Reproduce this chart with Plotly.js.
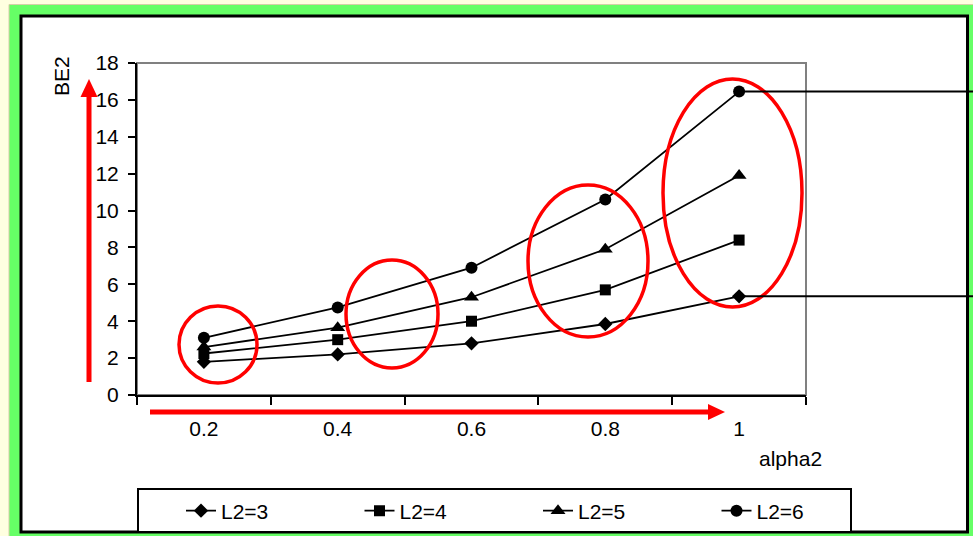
<!DOCTYPE html>
<html><head><meta charset="utf-8">
<script src="https://cdn.plot.ly/plotly-3.0.1.min.js"></script>
<style>html,body{margin:0;padding:0;background:#FFFFE0;overflow:hidden;} #chart{width:973px;height:536px;}</style>
</head><body><div id="chart"></div>
<script>
// ---- data ----
const categories = ['0.2', '0.4', '0.6', '0.8', '1'];
const seriesNames = ['L2=3', 'L2=4', 'L2=5', 'L2=6'];
const L2_3 = [1.8, 2.2, 2.8, 3.85, 5.35];
const L2_4 = [2.25, 3.0, 4.0, 5.7, 8.4];
const L2_5 = [2.6, 3.65, 5.3, 7.9, 11.9];
const L2_6 = [3.1, 4.75, 6.9, 10.6, 16.45];
const yTickVals = [0, 2, 4, 6, 8, 10, 12, 14, 16, 18];
const xTitle = 'alpha2';
const yTitle = 'BE2';

// ---- styles ----
const symbols = ['diamond', 'square', 'triangle-up', 'circle'];
const symSizes = [11, 11, 13, 12];
const FONT = 'Liberation Sans, Arial, sans-serif';

// plot area in pixels
const W = 973, H = 536, L = 137, R = 806, T = 63, B = 395;
const px = v => (v - L) / (R - L);
const py = v => (B - v) / (B - T);

const allSeries = [L2_3, L2_4, L2_5, L2_6];
const traces = allSeries.map((ys, i) => ({
  type: 'scatter', mode: 'lines+markers',
  x: categories, y: ys, name: seriesNames[i],
  line: {color: '#000000', width: 1.8},
  marker: {symbol: symbols[i], size: symSizes[i], color: '#000000'}
}));

const red = '#FF0000';
function ell(x0, y0, x1, y1) {
  return {type: 'circle', xref: 'paper', yref: 'paper', x0: px(x0), x1: px(x1), y0: py(y1), y1: py(y0),
          line: {color: red, width: 3.5}, fillcolor: 'rgba(0,0,0,0)', layer: 'above'};
}
function pline(x0, y0, x1, y1, color, width, layer) {
  return {type: 'line', xref: 'paper', yref: 'paper', x0: px(x0), y0: py(y0), x1: px(x1), y1: py(y1),
          line: {color: color, width: width}, layer: layer || 'above'};
}
function tri(pts) {
  const d = 'M' + pts.map(p => px(p[0]) + ',' + py(p[1])).join(' L') + ' Z';
  return {type: 'path', xref: 'paper', yref: 'paper', path: d, fillcolor: red, line: {width: 0}, layer: 'above'};
}

const lastIdx = categories.length - 1;
const xLast = (lastIdx + 0.5) / categories.length;

const shapes = [
  // backgrounds
  {type: 'rect', xref: 'paper', yref: 'paper', x0: px(9), x1: px(990), y0: py(4.5), y1: py(560),
   fillcolor: '#66FF66', line: {color: '#D6CFA8', width: 1}, layer: 'below'},
  {type: 'rect', xref: 'paper', yref: 'paper', x0: px(21), x1: px(967.5), y0: py(16), y1: py(532),
   fillcolor: '#FFFFFF', line: {color: '#000000', width: 3}, layer: 'below'},
  // plot frame (grey top/right)
  {type: 'rect', xref: 'paper', yref: 'paper', x0: 0, x1: 1, y0: 0, y1: 1,
   fillcolor: 'rgba(0,0,0,0)', line: {color: '#808080', width: 2}, layer: 'below'},
  // legend box
  {type: 'rect', xref: 'paper', yref: 'paper', x0: px(138), x1: px(851), y0: py(532), y1: py(489),
   fillcolor: '#FFFFFF', line: {color: '#000000', width: 2}, layer: 'below'},
  // ellipses
  ell(179, 306, 257, 383),
  ell(346, 260, 438, 368),
  ell(528, 185, 648, 337),
  ell(663, 79, 802, 307),
  // leader lines from the last points
  {type: 'line', xref: 'paper', yref: 'paper', x0: xLast, x1: px(973), y0: L2_6[lastIdx] / 18, y1: L2_6[lastIdx] / 18,
   line: {color: '#000000', width: 2}, layer: 'above'},
  {type: 'line', xref: 'paper', yref: 'paper', x0: xLast, x1: px(973), y0: L2_3[lastIdx] / 18, y1: L2_3[lastIdx] / 18,
   line: {color: '#000000', width: 2}, layer: 'above'},
  // red arrows
  pline(89, 382, 89, 95, red, 5),
  tri([[80.5, 97], [97.5, 97], [89, 79]]),
  pline(150, 412, 710, 412, red, 5),
  tri([[708, 404], [708, 420], [725, 412]])
];

const annotations = [
  {xref: 'paper', yref: 'paper', x: px(61), y: py(76), text: yTitle, showarrow: false, textangle: -90,
   font: {family: FONT, size: 21, color: '#000000'}, xanchor: 'center', yanchor: 'middle'},
  {xref: 'paper', yref: 'paper', x: px(790), y: py(458), text: xTitle, showarrow: false,
   font: {family: FONT, size: 21, color: '#000000'}, xanchor: 'center', yanchor: 'middle'}
];

const layout = {
  width: W, height: H,
  margin: {l: L, r: W - R, t: T, b: H - B, pad: 0, autoexpand: false},
  paper_bgcolor: '#FFFFE0', plot_bgcolor: 'rgba(0,0,0,0)',
  font: {family: FONT, size: 21, color: '#000000'},
  showlegend: true,
  legend: {orientation: 'h', x: px(895), y: py(511), xanchor: 'right', yanchor: 'middle',
           bgcolor: 'rgba(0,0,0,0)', borderwidth: 0, font: {family: FONT, size: 21, color: '#000000'},
           entrywidth: 133.5, entrywidthmode: 'pixels', itemclick: false},
  xaxis: {type: 'category', categoryorder: 'array', categoryarray: categories, range: [-0.5, 4.5],
          tickson: 'boundaries', ticks: 'outside', ticklen: 8, tickwidth: 2, tickcolor: '#000000',
          showline: true, linecolor: '#000000', linewidth: 2, showgrid: false, zeroline: false,
          ticklabelstandoff: 14, tickfont: {family: FONT, size: 21, color: '#000000'}, fixedrange: true},
  yaxis: {range: [0, 18], tickvals: yTickVals, ticks: 'outside', ticklen: 7, tickwidth: 2, tickcolor: '#000000',
          showline: true, linecolor: '#000000', linewidth: 2, showgrid: false, zeroline: false,
          ticklabelstandoff: 5, tickfont: {family: FONT, size: 21, color: '#000000'}, fixedrange: true},
  shapes: shapes,
  annotations: annotations
};

Plotly.newPlot('chart', traces, layout, {displayModeBar: false, staticPlot: true});
</script>
</body></html>
